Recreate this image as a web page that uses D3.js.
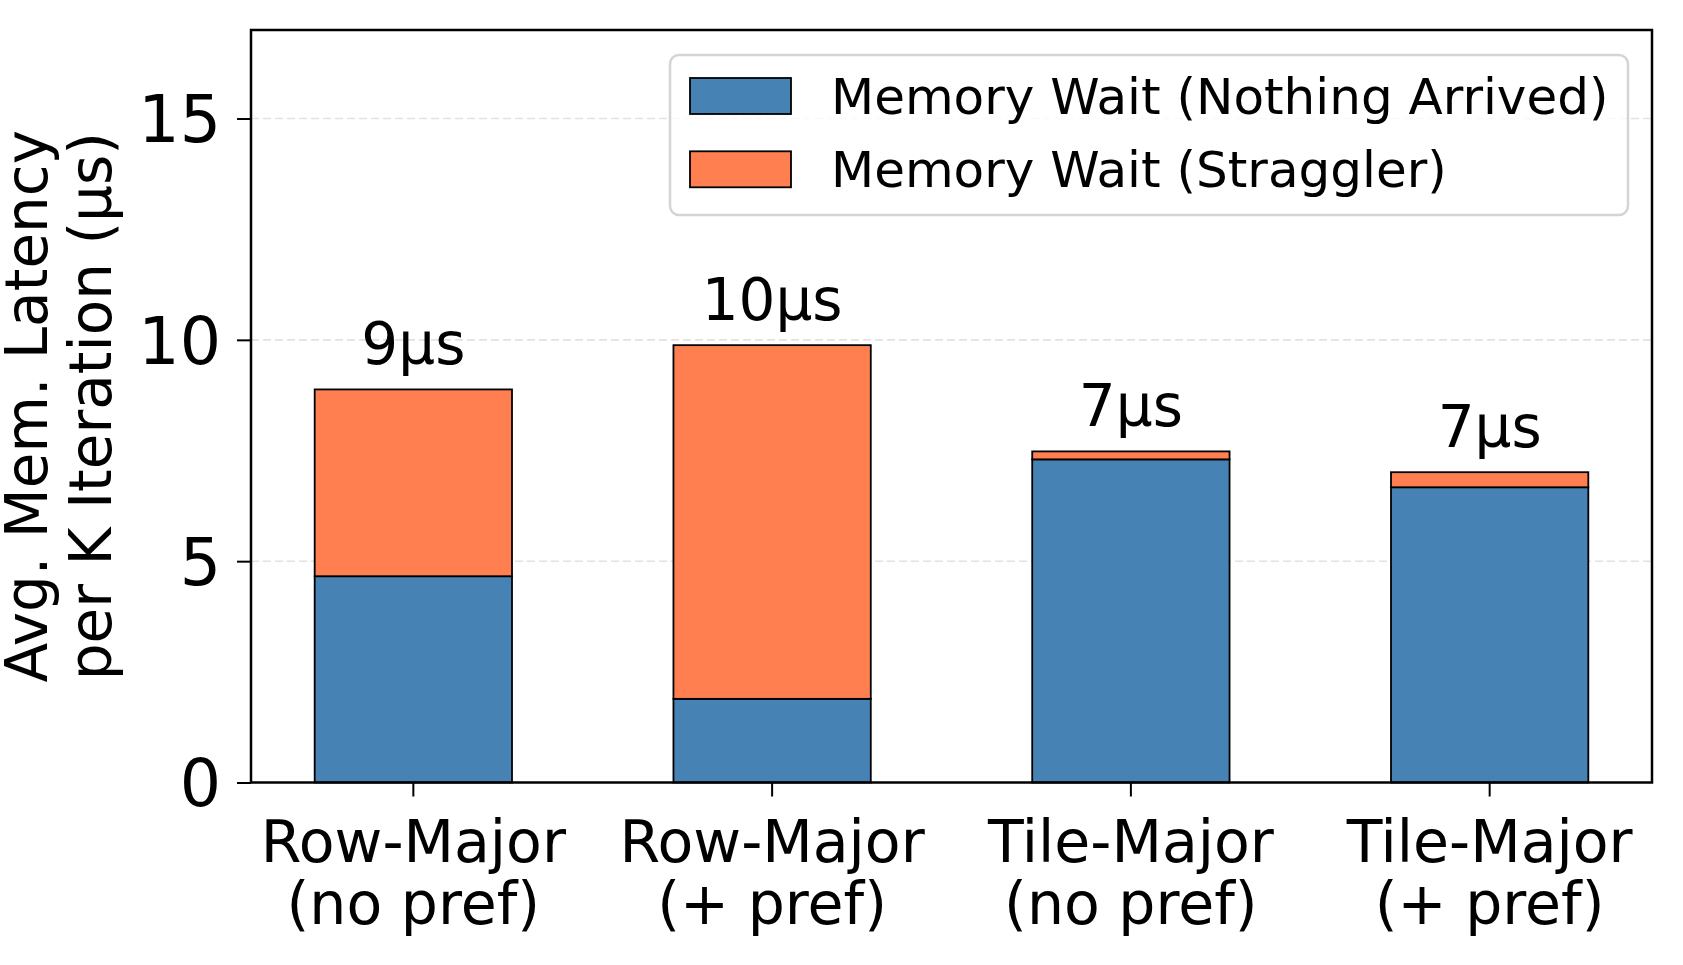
<!DOCTYPE html>
<html>
<head>
<meta charset="utf-8">
<script src="https://cdn.jsdelivr.net/npm/d3@7"></script>
<style>
  body { margin: 0; background: #fff; }
  text { font-family: "DejaVu Sans", sans-serif; fill: #000; }
</style>
</head>
<body>
<div id="chart"></div>
<script>
var categories = ["Row-Major\n(no pref)", "Row-Major\n(+ pref)", "Tile-Major\n(no pref)", "Tile-Major\n(+ pref)"];
var nothingArrived = [4.66, 1.89, 7.30, 6.67];
var straggler = [4.22, 7.99, 0.18, 0.34];
var seriesNames = ["Memory Wait (Nothing Arrived)", "Memory Wait (Straggler)"];
var seriesColors = ["#4682B4", "#FF7F50"];
var yTicks = [0, 5, 10, 15];
var yLabel = ["Avg. Mem. Latency", "per K Iteration (\u00b5s)"];

var width = 1683;
var height = 965;
var margin = { top: 30, right: 31, bottom: 182.5, left: 251 };
var innerW = width - margin.left - margin.right;
var innerH = height - margin.top - margin.bottom;

/* rows for the stack */
var keys = ["nothing", "straggler"];
var rows = categories.map(function(c, i) {
  return { cat: c, nothing: nothingArrived[i], straggler: straggler[i] };
});
var stacked = d3.stack().keys(keys)(rows);

/* Scales */
var x = d3.scaleBand()
  .domain(categories)
  .range([0, innerW])
  .paddingInner(0.45)
  .paddingOuter(0.1775);

var y = d3.scaleLinear()
  .domain([0, 17])
  .range([innerH, 0]);

var svg = d3.select("#chart").append("svg")
  .attr("width", width)
  .attr("height", height);

var g = svg.append("g")
  .attr("transform", `translate(${margin.left}, ${margin.top})`);

/* grid */
g.append("g")
  .selectAll("line")
  .data(yTicks.filter(d => d > 0)).enter()
  .append("line")
  .attr("x1", 0)
  .attr("x2", innerW)
  .attr("y1", d => y(d))
  .attr("y2", d => y(d))
  .attr("stroke", "#e2e2e2")
  .attr("stroke-width", 1.6)
  .attr("stroke-dasharray", "8,4");

/* bars */
g.append("g")
  .selectAll("g")
  .data(stacked).enter()
  .append("g")
  .attr("fill", (d, i) => seriesColors[i])
  .selectAll("rect")
  .data(d => d).enter()
  .append("rect")
  .attr("x", d => x(d.data.cat))
  .attr("width", x.bandwidth())
  .attr("y", d => y(d[1]))
  .attr("height", d => y(d[0]) - y(d[1]))
  .attr("stroke", "#000")
  .attr("stroke-width", 1.8);

/* total labels */
g.append("g")
  .selectAll("text")
  .data(rows).enter()
  .append("text")
  .attr("x", d => x(d.cat) + x.bandwidth() / 2)
  .attr("y", d => y(d.nothing + d.straggler + 0.3) - 12)
  .attr("text-anchor", "middle")
  .style("font-size", "58px")
  .text(d => Math.round(d.nothing + d.straggler) + "\u00b5s");

/* Axes */
var xAxis = d3.axisBottom(x).tickSize(14).tickSizeOuter(0).tickFormat("");
var yAxis = d3.axisLeft(y).tickValues(yTicks).tickSize(14).tickSizeOuter(0).tickFormat("");

var xg = g.append("g")
  .attr("transform", `translate(0, ${innerH})`)
  .call(xAxis);
xg.select(".domain").remove();
xg.selectAll(".tick line").attr("stroke", "#000").attr("stroke-width", 2);
xg.selectAll(".tick").each(function(d) {
  var t = d3.select(this).append("text")
    .attr("text-anchor", "middle")
    .attr("y", 79)
    .style("font-size", "58.5px");
  d.split("\n").forEach(function(line, i) {
    t.append("tspan").attr("x", 0).attr("dy", i === 0 ? 0 : 62).text(line);
  });
});

var yg = g.append("g").call(yAxis);
yg.select(".domain").remove();
yg.selectAll(".tick line").attr("stroke", "#000").attr("stroke-width", 2);
yg.selectAll(".tick").append("text")
  .attr("x", -30)
  .attr("dy", "0.36em")
  .attr("text-anchor", "end")
  .style("font-size", "65px")
  .text(d => d);

/* frame */
g.append("rect")
  .attr("width", innerW)
  .attr("height", innerH)
  .attr("fill", "none")
  .attr("stroke", "#000")
  .attr("stroke-width", 2.5);

/* y label */
var yl = svg.append("text")
  .attr("transform", `translate(47, ${margin.top + innerH / 2}) rotate(-90)`)
  .attr("text-anchor", "middle")
  .style("font-size", "58px");
yLabel.forEach(function(line, i) {
  yl.append("tspan").attr("x", 0).attr("dy", i === 0 ? 0 : 64).text(line);
});

/* legend */
var legend = svg.append("g");
legend.append("rect")
  .attr("x", 670)
  .attr("y", 55)
  .attr("width", 958)
  .attr("height", 160)
  .attr("rx", 9)
  .attr("fill", "#fff")
  .attr("fill-opacity", 0.8)
  .attr("stroke", "#d4d4d4")
  .attr("stroke-width", 2.5);

var items = legend.selectAll(".item")
  .data(seriesNames).enter()
  .append("g")
  .attr("class", "item")
  .attr("transform", (d, i) => `translate(690, ${78 + i * 73.3})`);
items.append("rect")
  .attr("width", 101)
  .attr("height", 36)
  .attr("fill", (d, i) => seriesColors[i])
  .attr("stroke", "#000")
  .attr("stroke-width", 1.8);
items.append("text")
  .attr("x", 141)
  .attr("y", 35.5)
  .style("font-size", "50px")
  .text(d => d);
</script>
</body>
</html>
